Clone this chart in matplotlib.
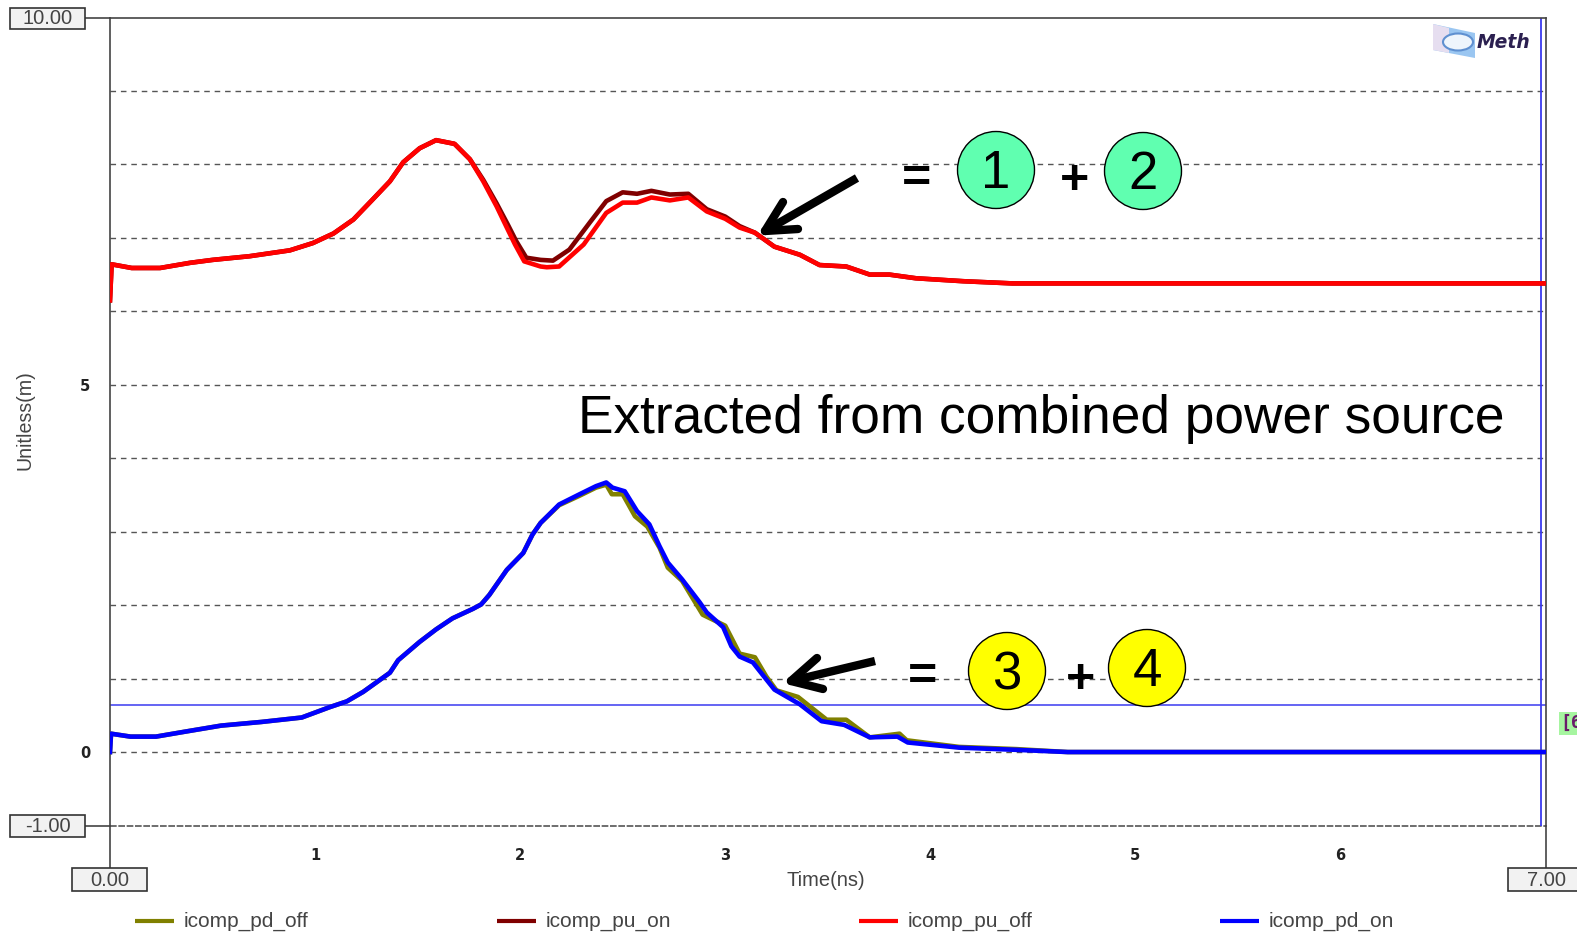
import matplotlib
matplotlib.use("Agg")
import matplotlib.pyplot as plt
from matplotlib.patches import Circle, Rectangle, Polygon, Ellipse

plt.rcParams['font.family'] = ['Liberation Sans', 'DejaVu Sans']

# ---- data (time in ns, value in Unitless(m)) ----
pu_off_t = [0.0, 0.008, 0.106, 0.244, 0.39, 0.50, 0.68, 0.877, 0.99, 1.09, 1.187, 1.28, 1.365, 1.43, 1.51, 1.59, 1.68,
            1.755, 1.82, 1.885, 1.935, 1.975, 2.02, 2.10, 2.13, 2.19, 2.31, 2.42, 2.50, 2.57, 2.64, 2.73, 2.82, 2.91,
            3.0, 3.07, 3.145, 3.24, 3.364, 3.46, 3.59, 3.705, 3.80, 3.93, 4.16, 4.40, 7.0]
pu_off_v = [6.15, 6.64, 6.59, 6.59, 6.66, 6.70, 6.75, 6.83, 6.93, 7.06, 7.25, 7.52, 7.77, 8.03, 8.22, 8.33, 8.28,
            8.07, 7.77, 7.43, 7.14, 6.91, 6.68, 6.61, 6.60, 6.61, 6.91, 7.34, 7.48, 7.48, 7.55, 7.51, 7.55, 7.36,
            7.26, 7.14, 7.07, 6.88, 6.77, 6.63, 6.61, 6.50, 6.50, 6.45, 6.41, 6.38, 6.38]
pu_on_t = [0.0, 0.008, 0.106, 0.244, 0.39, 0.50, 0.68, 0.877, 0.99, 1.09, 1.187, 1.28, 1.365, 1.43, 1.51, 1.59, 1.68,
           1.755, 1.82, 1.885, 1.94, 1.98, 2.03, 2.10, 2.16, 2.24, 2.34, 2.42, 2.50, 2.57, 2.64, 2.73, 2.82, 2.91,
           3.0, 3.07, 3.145, 3.24, 3.364, 3.46, 3.59, 3.705, 3.80, 3.93, 4.16, 4.40, 7.0]
pu_on_v = [6.15, 6.64, 6.59, 6.59, 6.66, 6.70, 6.75, 6.83, 6.93, 7.06, 7.25, 7.52, 7.77, 8.03, 8.22, 8.33, 8.28,
           8.07, 7.79, 7.47, 7.18, 6.96, 6.73, 6.70, 6.69, 6.84, 7.21, 7.50, 7.62, 7.60, 7.64, 7.59, 7.60, 7.39,
           7.29, 7.16, 7.07, 6.88, 6.77, 6.63, 6.61, 6.50, 6.50, 6.45, 6.41, 6.38, 6.38]
pd_on_t = [0.0, 0.005, 0.10, 0.224, 0.371, 0.542, 0.739, 0.935, 1.07, 1.155, 1.235, 1.33, 1.365, 1.405, 1.51, 1.59,
           1.67, 1.77, 1.81, 1.85, 1.935, 2.015, 2.06, 2.10, 2.19, 2.29, 2.37, 2.42, 2.45, 2.51, 2.57, 2.63, 2.68,
           2.72, 2.79, 2.875, 2.91, 2.99, 3.03, 3.07, 3.135, 3.20, 3.24, 3.364, 3.47, 3.58, 3.705, 3.84, 3.89, 4.14,
           4.42, 4.67, 7.0]
pd_on_v = [0.0, 0.25, 0.21, 0.21, 0.28, 0.36, 0.41, 0.47, 0.61, 0.69, 0.82, 1.01, 1.08, 1.25, 1.50, 1.67,
           1.82, 1.95, 2.01, 2.14, 2.48, 2.71, 2.96, 3.12, 3.37, 3.51, 3.62, 3.67, 3.60, 3.55, 3.28, 3.10, 2.80,
           2.58, 2.35, 2.04, 1.90, 1.70, 1.44, 1.30, 1.22, 0.99, 0.85, 0.65, 0.42, 0.37, 0.20, 0.21, 0.13, 0.06,
           0.03, 0.0, 0.0]
pd_off_t = [0.0, 0.005, 0.10, 0.224, 0.371, 0.542, 0.739, 0.935, 1.07, 1.155, 1.235, 1.33, 1.365, 1.405, 1.51, 1.59,
            1.67, 1.77, 1.81, 1.85, 1.935, 2.015, 2.06, 2.10, 2.19, 2.29, 2.37, 2.42, 2.447, 2.50, 2.56, 2.62, 2.68,
            2.72, 2.79, 2.89, 3.0, 3.07, 3.145, 3.20, 3.25, 3.355, 3.40, 3.495, 3.59, 3.705, 3.85, 3.885, 4.14,
            4.42, 4.67, 7.0]
pd_off_v = [0.0, 0.25, 0.21, 0.21, 0.28, 0.36, 0.41, 0.47, 0.61, 0.69, 0.82, 1.01, 1.08, 1.25, 1.50, 1.67,
            1.82, 1.95, 2.01, 2.14, 2.48, 2.71, 2.96, 3.12, 3.36, 3.49, 3.60, 3.64, 3.51, 3.51, 3.21, 3.07, 2.78,
            2.51, 2.33, 1.87, 1.72, 1.34, 1.29, 1.03, 0.84, 0.75, 0.65, 0.44, 0.44, 0.20, 0.25, 0.16, 0.07,
            0.04, 0.0, 0.0]

cursor_x = 6.98
cursor_y = 0.64
x_ticks = [1, 2, 3, 4, 5, 6]
y_ticks = [0, 5]
grid_levels = [0, 1, 2, 3, 4, 5, 6, 7, 8, 9]
series = [("icomp_pd_off", "#808000"), ("icomp_pu_on", "#800000"),
          ("icomp_pu_off", "#ff0000"), ("icomp_pd_on", "#0000ff")]

W, H = 1577, 934
fig = plt.figure(figsize=(W / 100, H / 100), dpi=100)
L, R, T, B = 110, 1545.5, 17.5, 825.5
ax = fig.add_axes([L / W, 1 - B / H, (R - L) / W, (B - T) / H])
ax.set_xlim(0, 7)
ax.set_ylim(-1, 10)

for g in grid_levels:
    ax.axhline(g, color="#555555", lw=1.0, dashes=(4, 3.5), zorder=1)
ax.axhline(-1, color="#555555", lw=1.2, dashes=(4, 1), zorder=1, clip_on=False)
ax.axhline(cursor_y, color="#3a3af0", lw=1.1, zorder=2)
ax.axvline(cursor_x, color="#3a3af0", lw=1.3, zorder=2)

lw = 3.3
ax.plot(pd_off_t, pd_off_v, color=series[0][1], lw=lw, zorder=3, solid_joinstyle='round')
ax.plot(pu_on_t, pu_on_v, color=series[1][1], lw=lw, zorder=3, solid_joinstyle='round')
ax.plot(pu_off_t, pu_off_v, color=series[2][1], lw=lw, zorder=4, solid_joinstyle='round')
ax.plot(pd_on_t, pd_on_v, color=series[3][1], lw=lw, zorder=5, solid_joinstyle='round')

for s in ("top", "left", "right"):
    ax.spines[s].set_color("#444444")
    ax.spines[s].set_linewidth(1.2)
ax.spines["bottom"].set_visible(False)
ax.set_xticks(x_ticks)
ax.set_yticks(y_ticks)
ax.tick_params(length=0)
ax.set_xticklabels([str(v) for v in x_ticks], fontsize=10.5, fontweight="bold", color="#222222",
                   family="DejaVu Sans")
ax.set_yticklabels([str(v) for v in y_ticks], fontsize=10.5, fontweight="bold", color="#222222",
                   family="DejaVu Sans")
ax.tick_params(axis='x', pad=16)
ax.tick_params(axis='y', pad=14)
ax.set_xlabel("Time(ns)", fontsize=14.5, color="#444444", labelpad=0)
ax.xaxis.set_label_coords((826 - L) / (R - L), -(880 - B) / (B - T), transform=ax.transAxes)
ax.xaxis.label.set_va("center")
ax.set_ylabel("Unitless(m)", fontsize=14.1, color="#444444")
ax.yaxis.set_label_coords((25.5 - L) / (R - L), 1 - (420 - T) / (B - T), transform=ax.transAxes)
ax.yaxis.label.set_va("center")

# overlay in pixel coordinates for the annotations and chrome
ov = fig.add_axes([0, 0, 1, 1], facecolor="none")
ov.set_xlim(0, W)
ov.set_ylim(H, 0)
ov.axis("off")

def box(x0, y0, x1, y1, label):
    ov.add_patch(Rectangle((x0, y0), x1 - x0, y1 - y0, fc="#f2f2f2", ec="#333333", lw=1.2, zorder=6))
    ov.text((x0 + x1) / 2, (y0 + y1) / 2 + 0.5, label, ha="center", va="center", fontsize=14.5,
            color="#444444", zorder=7)

ov.plot([85, L], [18, 18], color="#444444", lw=1.2)
ov.plot([85, L], [826, 826], color="#444444", lw=1.2)
ov.plot([L, L], [826, 868], color="#444444", lw=1.2)
ov.plot([R, R], [826, 868], color="#444444", lw=1.2)
box(10, 8, 85, 29, "10.00")
box(10, 815, 85, 837, "-1.00")
box(72, 868, 147, 891, "0.00")
box(1508, 868, 1585, 891, "7.00")

# cursor read-out clipped at the edge
ov.add_patch(Rectangle((1559, 712), 20, 23, fc="#a6f5a0", ec="none"))
ov.text(1560, 723, "[6", fontsize=13, fontweight="bold", color="#6a1b6a", va="center", ha="left",
        family="DejaVu Sans Mono", clip_on=True)

# legend
for (name, col), x0 in zip(series, [135, 497, 859, 1220]):
    ov.plot([x0, x0 + 39], [921, 921], color=col, lw=3, solid_capstyle="butt")
    ov.text(x0 + 49, 921, name, fontsize=15.0, color="#444444", va="center", ha="left")

# logo
ov.add_patch(Polygon([(1433, 24), (1475, 33), (1475, 58), (1433, 50)], fc="#8fc0f0", ec="none", alpha=0.9))
ov.add_patch(Polygon([(1433, 24), (1449, 28), (1449, 53), (1433, 50)], fc="#e6def0", ec="none"))
ov.add_patch(Ellipse((1458, 42), 30, 17, fc="#eef5fc", ec="#5f90d0", lw=1.5))
ov.text(1477, 42, "Meth", fontsize=13.5, fontweight="bold", style="italic", color="#2b2050", va="center",
        ha="left", family="DejaVu Sans")

# slide annotations
ov.text(1041.5, 419, "Extracted from combined power source", fontsize=38.3, color="black", ha="center", va="center")
ov.text(917, 180, "=", fontsize=36, fontweight="bold", color="black", ha="center", va="center")
ov.text(1074, 181, "+", fontsize=36, fontweight="bold", color="black", ha="center", va="center")
ov.text(923, 678, "=", fontsize=36, fontweight="bold", color="black", ha="center", va="center")
ov.text(1081, 680, "+", fontsize=36, fontweight="bold", color="black", ha="center", va="center")
circles = [(996, 170, "1", "#60ffb0"), (1143, 171, "2", "#60ffb0"),
           (1007, 671, "3", "#ffff00"), (1147, 668, "4", "#ffff00")]
for cx, cy, lab, col in circles:
    ov.add_patch(Circle((cx, cy), 38.5, fc=col, ec="black", lw=1.0, zorder=6))
    ov.text(cx, cy + 4, lab, fontsize=38, color="black", ha="center", va="center", zorder=7)

arrows = [((857, 178), (765, 231), (783, 202), (798, 229)),
          ((875, 661), (791, 681), (817, 658), (823, 689))]
for tail, tip, barb1, barb2 in arrows:
    for a, b in [(tail, tip), (barb1, tip), (barb2, tip)]:
        ov.plot([a[0], b[0]], [a[1], b[1]], color="black", lw=6.0,
                solid_capstyle="round" if a != tail else "butt", zorder=8)

fig.savefig("out.png", dpi=100)
